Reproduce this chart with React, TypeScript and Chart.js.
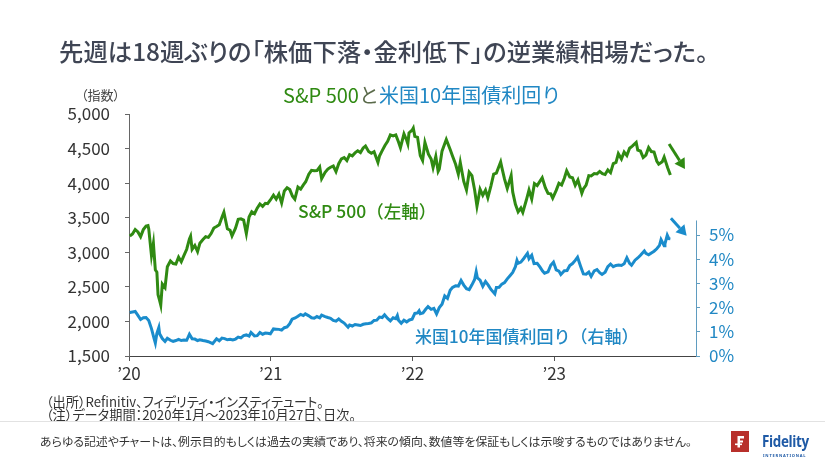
import React, { useEffect, useRef } from "react";
import { Chart, registerables } from "chart.js";

Chart.register(...registerables);

// ---- data ----
const spDates = [
  "2020-01-03", "2020-01-10", "2020-01-17", "2020-01-24", "2020-01-31", "2020-02-07", "2020-02-14", "2020-02-19",
  "2020-02-21", "2020-02-28", "2020-03-04", "2020-03-06", "2020-03-09", "2020-03-13", "2020-03-16", "2020-03-20",
  "2020-03-23", "2020-03-27", "2020-04-03", "2020-04-09", "2020-04-17", "2020-04-24", "2020-05-01", "2020-05-08",
  "2020-05-15", "2020-05-22", "2020-05-29", "2020-06-05", "2020-06-08", "2020-06-12", "2020-06-19", "2020-06-26",
  "2020-07-02", "2020-07-10", "2020-07-17", "2020-07-24", "2020-07-31", "2020-08-07", "2020-08-14", "2020-08-21",
  "2020-08-28", "2020-09-02", "2020-09-11", "2020-09-18", "2020-09-23", "2020-10-02", "2020-10-09", "2020-10-16",
  "2020-10-23", "2020-10-30", "2020-11-06", "2020-11-13", "2020-11-20", "2020-11-27", "2020-12-04", "2020-12-11",
  "2020-12-18", "2020-12-24", "2020-12-31",
  "2021-01-08", "2021-01-15", "2021-01-22", "2021-01-29", "2021-02-05", "2021-02-12", "2021-02-19", "2021-02-26",
  "2021-03-04", "2021-03-12", "2021-03-19", "2021-03-26", "2021-04-01", "2021-04-09", "2021-04-16", "2021-04-23",
  "2021-04-30", "2021-05-07", "2021-05-12", "2021-05-21", "2021-05-28", "2021-06-04", "2021-06-11", "2021-06-18",
  "2021-06-25", "2021-07-02", "2021-07-09", "2021-07-16", "2021-07-23", "2021-07-30", "2021-08-06", "2021-08-13",
  "2021-08-20", "2021-08-27", "2021-09-02", "2021-09-10", "2021-09-17", "2021-09-24", "2021-10-04", "2021-10-08",
  "2021-10-15", "2021-10-22", "2021-10-29", "2021-11-05", "2021-11-12", "2021-11-19", "2021-11-26", "2021-12-01",
  "2021-12-10", "2021-12-17", "2021-12-20", "2021-12-23", "2021-12-31",
  "2022-01-03", "2022-01-07", "2022-01-14", "2022-01-21", "2022-01-27", "2022-02-02", "2022-02-11", "2022-02-18",
  "2022-02-23", "2022-03-02", "2022-03-08", "2022-03-11", "2022-03-18", "2022-03-29", "2022-04-08", "2022-04-14",
  "2022-04-22", "2022-04-29", "2022-05-04", "2022-05-13", "2022-05-20", "2022-05-27", "2022-06-03", "2022-06-10",
  "2022-06-16", "2022-06-24", "2022-07-01", "2022-07-08", "2022-07-14", "2022-07-22", "2022-07-29", "2022-08-05",
  "2022-08-16", "2022-08-19", "2022-08-26", "2022-09-02", "2022-09-12", "2022-09-16", "2022-09-23", "2022-09-30",
  "2022-10-07", "2022-10-12", "2022-10-21", "2022-10-28", "2022-11-04", "2022-11-11", "2022-11-18", "2022-11-25",
  "2022-12-01", "2022-12-09", "2022-12-16", "2022-12-23", "2022-12-28",
  "2023-01-06", "2023-01-13", "2023-01-20", "2023-01-27", "2023-02-02", "2023-02-10", "2023-02-17", "2023-02-24",
  "2023-03-03", "2023-03-13", "2023-03-17", "2023-03-24", "2023-03-31", "2023-04-06", "2023-04-14", "2023-04-21",
  "2023-04-28", "2023-05-05", "2023-05-12", "2023-05-19", "2023-05-26", "2023-06-02", "2023-06-09", "2023-06-15",
  "2023-06-23", "2023-06-30", "2023-07-07", "2023-07-14", "2023-07-21", "2023-07-31", "2023-08-04", "2023-08-11",
  "2023-08-18", "2023-08-25", "2023-09-01", "2023-09-08", "2023-09-15", "2023-09-22", "2023-09-27", "2023-10-06",
  "2023-10-11", "2023-10-20", "2023-10-27",
];
const spValues = [
  3235, 3265, 3330, 3295, 3226, 3328, 3380, 3386,
  3338, 2954, 3130, 2972, 2746, 2711, 2386, 2305,
  2237, 2541, 2489, 2790, 2875, 2837, 2831, 2930,
  2864, 2955, 3044, 3194, 3232, 3041, 3098, 3009,
  3130, 3185, 3225, 3216, 3271, 3351, 3373, 3397,
  3508, 3580, 3341, 3319, 3237, 3348, 3477, 3484,
  3465, 3270, 3510, 3585, 3557, 3638, 3699, 3663,
  3709, 3703, 3756,
  3825, 3768, 3841, 3714, 3887, 3934, 3907, 3811,
  3768, 3943, 3913, 3975, 4020, 4129, 4185, 4180,
  4181, 4233, 4063, 4156, 4204, 4230, 4247, 4166,
  4281, 4352, 4370, 4327, 4412, 4395, 4437, 4468,
  4442, 4509, 4537, 4459, 4433, 4455, 4300, 4391,
  4471, 4545, 4605, 4697, 4683, 4698, 4595, 4513,
  4712, 4620, 4568, 4725, 4766,
  4796, 4677, 4663, 4398, 4327, 4589, 4419, 4349,
  4225, 4387, 4170, 4204, 4463, 4632, 4488, 4393,
  4272, 4132, 4300, 4024, 3901, 4158, 4109, 3901,
  3667, 3912, 3825, 3899, 3790, 3962, 4130, 4145,
  4305, 4228, 4058, 3924, 4110, 3873, 3693, 3586,
  3640, 3577, 3752, 3901, 3771, 3993, 3965, 4026,
  4077, 3934, 3852, 3845, 3783,
  3895, 3999, 3973, 4070, 4179, 4090, 4079, 3970,
  4046, 3855, 3917, 3971, 4109, 4105, 4138, 4133,
  4169, 4136, 4124, 4192, 4151, 4282, 4299, 4426,
  4348, 4450, 4399, 4505, 4536, 4589, 4478, 4464,
  4370, 4406, 4516, 4457, 4450, 4320, 4274, 4309,
  4377, 4224, 4117,
];

const yieldDates = [
  "2020-01-03", "2020-01-10", "2020-01-17", "2020-01-24", "2020-01-31", "2020-02-07", "2020-02-14", "2020-02-21",
  "2020-02-28", "2020-03-06", "2020-03-09", "2020-03-13", "2020-03-18", "2020-03-20", "2020-03-27", "2020-04-03",
  "2020-04-09", "2020-04-17", "2020-04-24", "2020-05-01", "2020-05-08", "2020-05-15", "2020-05-22", "2020-05-29",
  "2020-06-05", "2020-06-12", "2020-06-19", "2020-06-26", "2020-07-02", "2020-07-10", "2020-07-17", "2020-07-24",
  "2020-08-04", "2020-08-14", "2020-08-21", "2020-08-28", "2020-09-04", "2020-09-11", "2020-09-18", "2020-09-25",
  "2020-10-02", "2020-10-09", "2020-10-16", "2020-10-23", "2020-10-30", "2020-11-06", "2020-11-11", "2020-11-20",
  "2020-11-27", "2020-12-04", "2020-12-11", "2020-12-18", "2020-12-24", "2020-12-31",
  "2021-01-08", "2021-01-15", "2021-01-22", "2021-01-29", "2021-02-05", "2021-02-12", "2021-02-19", "2021-02-25",
  "2021-03-05", "2021-03-12", "2021-03-19", "2021-03-26", "2021-03-31", "2021-04-09", "2021-04-16", "2021-04-23",
  "2021-04-30", "2021-05-07", "2021-05-12", "2021-05-21", "2021-05-28", "2021-06-04", "2021-06-11", "2021-06-18",
  "2021-06-25", "2021-07-02", "2021-07-09", "2021-07-19", "2021-07-23", "2021-07-30", "2021-08-06", "2021-08-13",
  "2021-08-20", "2021-08-27", "2021-09-03", "2021-09-10", "2021-09-17", "2021-09-24", "2021-10-01", "2021-10-08",
  "2021-10-15", "2021-10-21", "2021-10-29", "2021-11-05", "2021-11-12", "2021-11-19", "2021-11-23", "2021-11-26",
  "2021-12-03", "2021-12-10", "2021-12-17", "2021-12-24", "2021-12-31",
  "2022-01-07", "2022-01-14", "2022-01-18", "2022-01-21", "2022-01-28", "2022-02-04", "2022-02-10", "2022-02-18",
  "2022-02-25", "2022-03-04", "2022-03-11", "2022-03-18", "2022-03-25", "2022-04-01", "2022-04-08", "2022-04-14",
  "2022-04-22", "2022-04-29", "2022-05-06", "2022-05-13", "2022-05-20", "2022-05-27", "2022-06-03", "2022-06-10",
  "2022-06-14", "2022-06-17", "2022-06-24", "2022-07-01", "2022-07-08", "2022-07-15", "2022-07-22", "2022-08-01",
  "2022-08-05", "2022-08-12", "2022-08-19", "2022-08-26", "2022-09-02", "2022-09-09", "2022-09-16", "2022-09-23",
  "2022-09-27", "2022-09-30", "2022-10-07", "2022-10-14", "2022-10-24", "2022-10-28", "2022-11-04", "2022-11-10",
  "2022-11-18", "2022-11-25", "2022-12-02", "2022-12-07", "2022-12-16", "2022-12-23", "2022-12-30",
  "2023-01-06", "2023-01-13", "2023-01-18", "2023-01-27", "2023-02-03", "2023-02-10", "2023-02-17", "2023-02-24",
  "2023-03-02", "2023-03-10", "2023-03-17", "2023-03-24", "2023-03-31", "2023-04-06", "2023-04-14", "2023-04-21",
  "2023-04-28", "2023-05-04", "2023-05-12", "2023-05-19", "2023-05-26", "2023-06-02", "2023-06-09", "2023-06-16",
  "2023-06-23", "2023-06-30", "2023-07-07", "2023-07-14", "2023-07-19", "2023-07-28", "2023-08-04", "2023-08-11",
  "2023-08-21", "2023-08-25", "2023-09-01", "2023-09-08", "2023-09-15", "2023-09-22", "2023-09-29", "2023-10-03",
  "2023-10-11", "2023-10-13", "2023-10-19", "2023-10-23", "2023-10-27",
];
const yieldValues = [
  1.8, 1.82, 1.84, 1.68, 1.51, 1.58, 1.59, 1.47,
  1.13, 0.71, 0.54, 0.94, 1.18, 0.92, 0.72, 0.6,
  0.73, 0.65, 0.6, 0.64, 0.69, 0.64, 0.66, 0.65,
  0.9, 0.71, 0.7, 0.64, 0.67, 0.64, 0.62, 0.59,
  0.51, 0.71, 0.63, 0.74, 0.72, 0.67, 0.69, 0.66,
  0.7, 0.78, 0.75, 0.84, 0.87, 0.82, 0.97, 0.83,
  0.84, 0.97, 0.9, 0.95, 0.94, 0.92,
  1.12, 1.11, 1.1, 1.07, 1.17, 1.2, 1.34, 1.52,
  1.57, 1.64, 1.72, 1.67, 1.74, 1.66, 1.58, 1.56,
  1.63, 1.58, 1.69, 1.63, 1.59, 1.56, 1.47, 1.44,
  1.53, 1.43, 1.36, 1.19, 1.28, 1.24, 1.3, 1.28,
  1.26, 1.31, 1.33, 1.34, 1.37, 1.47, 1.48, 1.61,
  1.59, 1.7, 1.55, 1.45, 1.58, 1.54, 1.67, 1.48,
  1.35, 1.48, 1.41, 1.49, 1.52,
  1.76, 1.78, 1.87, 1.75, 1.78, 1.93, 2.04, 1.93,
  1.97, 1.74, 2.0, 2.14, 2.48, 2.38, 2.72, 2.83,
  2.9, 2.89, 3.12, 2.93, 2.78, 2.74, 2.94, 3.16,
  3.48, 3.23, 3.13, 2.88, 3.08, 2.93, 2.75, 2.57,
  2.83, 2.84, 2.97, 3.03, 3.19, 3.32, 3.45, 3.69,
  3.95, 3.83, 3.88, 4.02, 4.24, 4.02, 4.16, 3.82,
  3.83, 3.68, 3.51, 3.42, 3.48, 3.75, 3.88,
  3.56, 3.51, 3.37, 3.52, 3.53, 3.74, 3.82, 3.95,
  4.08, 3.7, 3.39, 3.38, 3.47, 3.29, 3.52, 3.57,
  3.44, 3.37, 3.46, 3.69, 3.8, 3.69, 3.74, 3.76,
  3.74, 3.81, 4.06, 3.83, 3.75, 3.96, 4.05, 4.16,
  4.34, 4.24, 4.18, 4.26, 4.33, 4.43, 4.57, 4.81,
  4.56, 4.63, 4.99, 4.85, 4.84,
];

const xTickYears = [2020, 2021, 2022, 2023];
const leftTicks = [1500, 2000, 2500, 3000, 3500, 4000, 4500, 5000];
const rightTicks = [0, 1, 2, 3, 4, 5];

const GREEN = "#2f8a12";
const BLUE = "#1a8ccc";
const BLUE_TXT = "#2188c4";
const FONT = '"Noto Sans CJK JP", "Noto Sans", sans-serif';

function toYear(s: string): number {
  const [y, m, d] = s.split("-").map(Number);
  const start = Date.UTC(y, 0, 1);
  const end = Date.UTC(y + 1, 0, 1);
  return y + (Date.UTC(y, m - 1, d) - start) / (end - start);
}

function drawArrow(ctx: CanvasRenderingContext2D, x1: number, y1: number, x2: number, y2: number, color: string) {
  const ang = Math.atan2(y2 - y1, x2 - x1);
  const head = 10;
  const hw = 6;
  const bx = x2 - Math.cos(ang) * head;
  const by = y2 - Math.sin(ang) * head;
  ctx.save();
  ctx.strokeStyle = color;
  ctx.fillStyle = color;
  ctx.lineWidth = 3;
  ctx.beginPath();
  ctx.moveTo(x1, y1);
  ctx.lineTo(bx, by);
  ctx.stroke();
  ctx.beginPath();
  ctx.moveTo(x2, y2);
  ctx.lineTo(bx + Math.sin(ang) * hw, by - Math.cos(ang) * hw);
  ctx.lineTo(bx - Math.sin(ang) * hw, by + Math.cos(ang) * hw);
  ctx.closePath();
  ctx.fill();
  ctx.restore();
}

const extrasPlugin = {
  id: "extras",
  afterDraw(chart: any) {
    const { ctx, chartArea, scales } = chart;
    const x = scales.x;
    const y = scales.y;
    const y1 = scales.y1;
    // right axis line (only spans the yield range)
    ctx.save();
    ctx.strokeStyle = "#5f9cc0";
    ctx.lineWidth = 1;
    ctx.beginPath();
    ctx.moveTo(chartArea.right + 0.5, y1.getPixelForValue(0) + 1);
    ctx.lineTo(chartArea.right + 0.5, y1.getPixelForValue(5.6));
    ctx.stroke();
    ctx.restore();
    // arrows
    drawArrow(ctx, x.getPixelForValue(2023.81), y.getPixelForValue(4566), x.getPixelForValue(2023.922), y.getPixelForValue(4205), GREEN);
    drawArrow(ctx, x.getPixelForValue(2023.823), y1.getPixelForValue(5.69), x.getPixelForValue(2023.934), y1.getPixelForValue(4.97), BLUE);
  },
};

function ChartCanvas() {
  const ref = useRef<HTMLCanvasElement | null>(null);
  useEffect(() => {
    if (!ref.current) return;
    const chart = new Chart(ref.current, {
      type: "line",
      data: {
        datasets: [
          {
            label: "S&P 500",
            data: spDates.map((d, i) => ({ x: toYear(d), y: spValues[i] })),
            yAxisID: "y",
            borderColor: GREEN,
            borderWidth: 3,
            pointRadius: 0,
            tension: 0,
          },
          {
            label: "米国10年国債利回り",
            data: yieldDates.map((d, i) => ({ x: toYear(d), y: yieldValues[i] })),
            yAxisID: "y1",
            borderColor: BLUE,
            borderWidth: 3,
            pointRadius: 0,
            tension: 0,
          },
        ],
      },
      options: {
        animation: false,
        responsive: false,
        maintainAspectRatio: false,
        layout: { padding: { top: 114, left: 0, right: 0, bottom: 0 } },
        plugins: { legend: { display: false }, tooltip: { enabled: false } },
        scales: {
          x: {
            type: "linear",
            min: 2020,
            max: 2024,
            afterBuildTicks: (s: any) => {
              s.ticks = xTickYears.map((v) => ({ value: v }));
            },
            ticks: {
              callback: (v: any) => "\u2019" + String(v).slice(2),
              font: { size: 17, family: FONT },
              color: "#333",
              padding: 2,
              maxRotation: 0,
              autoSkip: false,
            },
            grid: { drawOnChartArea: false, tickLength: 5, color: "#555" },
            border: { color: "#444", width: 1 },
            afterFit: (s: any) => {
              s.height = 464 - 356;
            },
          },
          y: {
            position: "left",
            min: 1500,
            max: 5000,
            afterBuildTicks: (s: any) => {
              s.ticks = leftTicks.map((v) => ({ value: v }));
            },
            ticks: {
              callback: (v: any) => Number(v).toLocaleString("en-US"),
              font: { size: 17, family: FONT },
              color: "#333",
              padding: 15,
            },
            grid: { drawOnChartArea: false, tickLength: 4, color: "#666" },
            border: { color: "#666", width: 1 },
            afterFit: (s: any) => {
              s.width = 129;
            },
          },
          y1: {
            position: "right",
            min: 0,
            max: 10,
            afterBuildTicks: (s: any) => {
              s.ticks = rightTicks.map((v) => ({ value: v }));
            },
            ticks: {
              callback: (v: any) => v + "%",
              font: { size: 17, family: FONT },
              color: BLUE_TXT,
              padding: 9,
            },
            grid: { drawOnChartArea: false, tickLength: 4, color: "#5f9cc0" },
            border: { display: false },
            afterFit: (s: any) => {
              s.width = 825 - 696;
            },
          },
        },
      },
      plugins: [extrasPlugin],
    });
    return () => chart.destroy();
  }, []);
  return (
    <canvas
      ref={ref}
      width={825}
      height={464}
      style={{ position: "absolute", left: 0, top: 0, width: 825, height: 464 }}
    />
  );
}

function Logo() {
  return (
    <div style={{ position: "absolute", left: 731, top: 431, width: 90, height: 28 }}>
      <svg width={18} height={21} style={{ position: "absolute", left: 0, top: 0 }}>
        <rect x={0} y={0} width={18} height={21} fill="#b8302b" />
        <path d="M6.5 5 H13 V7.5 H9 V9.5 H12 V11.5 H9 V16.5 H6.5 Z" fill="#fff" />
        <rect x={4} y={12.5} width={7} height={1.6} fill="#fff" />
      </svg>
      <div
        style={{
          position: "absolute",
          left: 31,
          top: 2,
          fontFamily: '"Open Sans", "Noto Sans", sans-serif',
          fontWeight: 700,
          fontSize: 16,
          lineHeight: "16px",
          color: "#1f5aa6",
          letterSpacing: -0.4,
          transform: "scaleX(0.84)",
          transformOrigin: "left center",
        }}
      >
        Fidelity
      </div>
      <div
        style={{
          position: "absolute",
          left: 32,
          top: 22,
          fontFamily: '"Noto Sans", sans-serif',
          fontWeight: 700,
          fontSize: 4,
          lineHeight: "5px",
          color: "#1f5aa6",
          letterSpacing: 0.8,
          whiteSpace: "nowrap",
        }}
      >
        INTERNATIONAL
      </div>
    </div>
  );
}

export default function App() {
  useEffect(() => {
    document.body.style.margin = "0";
  }, []);
  const abs = (o: React.CSSProperties): React.CSSProperties => ({
    position: "absolute",
    whiteSpace: "nowrap",
    fontFamily: FONT,
    fontFeatureSettings: '"palt"',
    ...o,
  });
  return (
    <div style={{ position: "relative", width: 825, height: 464, background: "#fff", overflow: "hidden", fontFamily: FONT }}>
      <ChartCanvas />
      <div style={abs({ left: 59, top: 36, fontSize: 24.4, lineHeight: "30px", color: "#3f4554", fontWeight: 500 })}>
        先週は18週ぶりの「株価下落・金利低下」の逆業績相場だった。
      </div>
      <div style={abs({ left: 81, top: 87, fontSize: 13, lineHeight: "16px", color: "#444" })}>（指数）</div>
      <div style={abs({ left: 283, top: 83, fontSize: 20, lineHeight: "24px", fontFeatureSettings: "normal" })}>
        <span style={{ color: GREEN }}>S&amp;P 500</span>
        <span style={{ color: "#5a6a4a" }}>と</span>
        <span style={{ color: BLUE_TXT }}>米国10年国債利回り</span>
      </div>
      <div style={abs({ left: 298, top: 200, fontSize: 17.5, lineHeight: "22px", color: GREEN, fontWeight: 500, fontFeatureSettings: "normal" })}>
        S&amp;P 500（左軸）
      </div>
      <div style={abs({ left: 415, top: 325, fontSize: 17, lineHeight: "22px", color: BLUE_TXT, fontWeight: 500, fontFeatureSettings: "normal" })}>
        米国10年国債利回り（右軸）
      </div>
      <div style={abs({ left: 46, top: 394.5, fontSize: 13.2, lineHeight: "13.5px", color: "#333" })}>
        （出所）Refinitiv、フィデリティ・インスティテュート。
        <br />
        （注）データ期間：2020年1月～2023年10月27日、日次。
      </div>
      <div style={{ position: "absolute", left: 0, top: 421, width: 825, height: 1, background: "#e2e2e2" }} />
      <div style={abs({ left: 40, top: 434, fontSize: 11.9, lineHeight: "14px", color: "#333" })}>
        あらゆる記述やチャートは、例示目的もしくは過去の実績であり、将来の傾向、数値等を保証もしくは示唆するものではありません。
      </div>
      <Logo />
    </div>
  );
}
